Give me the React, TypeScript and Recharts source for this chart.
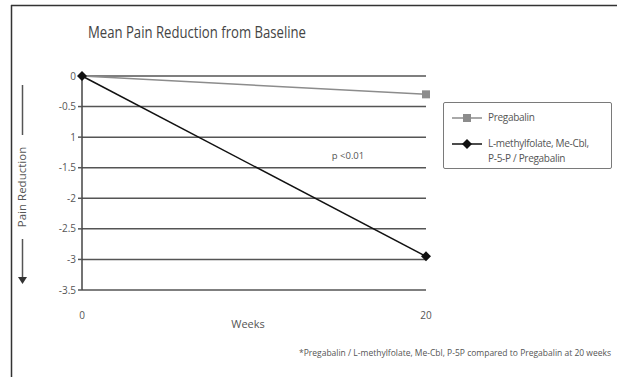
import React from "react";
import { LineChart, Line, XAxis, YAxis, CartesianGrid, Label } from "recharts";

const weeks = [0, 20];
const pregabalin = [0, -0.3];
const combo = [0, -2.95];
const yTicks = [0, -0.5, -1, -1.5, -2, -2.5, -3, -3.5];
const yTickLabels = ["0", "-0.5", "1", "-1.5", "-2", "-2.5", "-3", "-3.5"];
const seriesNames = ["Pregabalin", "L-methylfolate, Me-Cbl, P-5-P / Pregabalin"];

const data = weeks.map((w, i) => ({ week: w, preg: pregabalin[i], combo: combo[i] }));

const FONT = "'Open Sans', 'Noto Sans', sans-serif";

const SquareDot = (props: any) => {
  const { cx, cy, index } = props;
  if (index === 0) return <g key={"s" + index} />;
  return <rect key={"s" + index} x={cx - 4} y={cy - 4} width={8} height={8} fill="#8c8c8c" />;
};

const DiamondDot = (props: any) => {
  const { cx, cy, index } = props;
  const r = 5;
  return (
    <path
      key={"d" + index}
      d={`M${cx},${cy - r} L${cx + r},${cy} L${cx},${cy + r} L${cx - r},${cy} Z`}
      fill="#111"
    />
  );
};

const LegendBox = () => (
  <div
    style={{
      position: "absolute",
      left: 443,
      top: 102,
      width: 169,
      height: 67,
      border: "1.5px solid #7a7a7a",
      borderRadius: 2,
      boxSizing: "border-box",
      fontFamily: FONT,
      fontSize: 10,
      letterSpacing: -0.3,
      color: "#555",
      background: "#fff",
    }}
  >
    <svg width={40} height={60} style={{ position: "absolute", left: 6, top: 2 }}>
      <line x1={2} y1={13} x2={32} y2={13} stroke="#8c8c8c" strokeWidth={1.5} />
      <rect x={13} y={9} width={8} height={8} fill="#8c8c8c" />
      <line x1={2} y1={39} x2={32} y2={39} stroke="#111" strokeWidth={1.5} />
      <path d="M17,34 L22,39 L17,44 L12,39 Z" fill="#111" />
    </svg>
    <div style={{ position: "absolute", left: 44, top: 8, lineHeight: "13px" }}>{seriesNames[0]}</div>
    <div style={{ position: "absolute", left: 44, top: 33, width: 124, lineHeight: "15px", whiteSpace: "nowrap" }}>
      L-methylfolate, Me-Cbl,
      <br />
      P-5-P / Pregabalin
    </div>
  </div>
);

export default function App() {
  return (
    <div style={{ position: "absolute", left: 0, top: 0, width: 617, height: 377, background: "#fff" }}>
      <LineChart
        width={617}
        height={377}
        data={data}
        margin={{ top: 76, right: 191, bottom: 57, left: 32 }}
      >
        <CartesianGrid vertical={false} stroke="#555" strokeWidth={1.5} />
        <XAxis
          dataKey="week"
          type="number"
          domain={[0, 20]}
          ticks={weeks}
          axisLine={false}
          tickLine={false}
          height={30}
          interval={0}
          tick={{ fontSize: 10, fill: "#555", fontFamily: FONT }}
          tickMargin={16}
        >
          <Label value="Weeks" position="insideBottom" offset={-8} dx={-6} style={{ fontSize: 11, fill: "#555", fontFamily: FONT }} />
        </XAxis>
        <YAxis
          type="number"
          domain={[-3.5, 0]}
          ticks={yTicks}
          interval={0}
          width={50}
          axisLine={{ stroke: "#444", strokeWidth: 1.5 }}
          tickLine={{ stroke: "#555", strokeWidth: 1.5 }}
          tickSize={4}
          tickFormatter={(v: number) => yTickLabels[yTicks.indexOf(v)] ?? String(v)}
          tick={{ fontSize: 10, fill: "#555", fontFamily: FONT }}
        />
        <Line
          dataKey="preg"
          name={seriesNames[0]}
          stroke="#8c8c8c"
          strokeWidth={1.5}
          dot={SquareDot}
          isAnimationActive={false}
        />
        <Line
          dataKey="combo"
          name={seriesNames[1]}
          stroke="#111"
          strokeWidth={1.5}
          dot={DiamondDot}
          isAnimationActive={false}
        />
      </LineChart>
      <LegendBox />
      <svg
        width={617}
        height={377}
        style={{ position: "absolute", left: 0, top: 0, pointerEvents: "none" }}
      >
        <line x1={11} y1={5.5} x2={617} y2={5.5} stroke="#333" strokeWidth={1.5} />
        <line x1={11.5} y1={5} x2={11.5} y2={377} stroke="#333" strokeWidth={1.5} />
        <text x={88} y={38} fontFamily={FONT} fontSize={16.5} fill="#444" textLength={218} lengthAdjust="spacingAndGlyphs">
          Mean Pain Reduction from Baseline
        </text>
        <text x={348} y={159} fontFamily={FONT} fontSize={9.5} fill="#555" textAnchor="middle">
          p &lt;0.01
        </text>
        <line x1={22.5} y1={85} x2={22.5} y2={135} stroke="#555" strokeWidth={1.5} />
        <text
          x={22}
          y={187}
          fontFamily={FONT}
          fontSize={11.5}
          fill="#555"
          textAnchor="middle"
          transform="rotate(-90 22 187)"
          dy={4}
        >
          Pain Reduction
        </text>
        <line x1={22.5} y1={239} x2={22.5} y2={277} stroke="#555" strokeWidth={1.5} />
        <path d="M18,277 L27,277 L22.5,284 Z" fill="#333" />
        <text x={299} y={356} fontFamily={FONT} fontSize={8.5} fill="#555">
          *Pregabalin / L-methylfolate, Me-Cbl, P-5P compared to Pregabalin at 20 weeks
        </text>
      </svg>
    </div>
  );
}
